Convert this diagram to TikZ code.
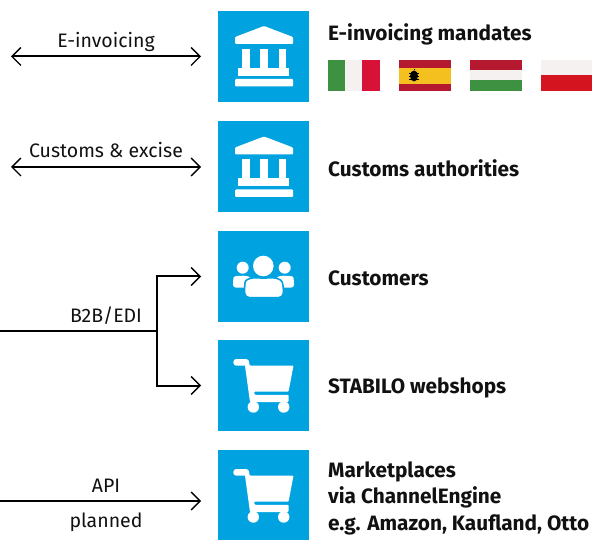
\documentclass[tikz,border=0pt]{standalone}
\usepackage{fontspec}
\setmainfont{Fira Sans}
\usetikzlibrary{arrows.meta}
\definecolor{tile}{HTML}{00A3E0}
\definecolor{fgreen}{HTML}{3F9142}
\definecolor{fwhite}{HTML}{F4F1F0}
\definecolor{fred}{HTML}{D81138}
\definecolor{fmaroon}{HTML}{B5192F}
\definecolor{fyellow}{HTML}{F3C01F}
\definecolor{fpol}{HTML}{D4151F}
\definecolor{ink}{HTML}{111111}
\tikzset{
  tilebox/.style={fill=tile,draw=none,minimum width=91pt,minimum height=91pt,inner sep=0pt,outer sep=0pt,anchor=north west},
  head/.style={font=\fontsize{20.8}{26.5}\selectfont\bfseries,text=ink,anchor=west,align=left,inner sep=0pt},
  lab/.style={font=\fontsize{19.5}{24}\selectfont,text=ink,anchor=base,inner sep=0pt},
  link/.style={line width=2pt,draw=black,line join=miter},
  tipend/.style={-{Straight Barb[length=9pt,width=18pt,line width=1.3pt]}},
  tipboth/.style={{Straight Barb[length=9pt,width=18pt,line width=1.3pt]}-{Straight Barb[length=9pt,width=18pt,line width=1.3pt]}},
  icon/.style={fill=white,draw=none},
}
\newcommand{\bankicon}{%
  \fill[icon,rounded corners=1pt] (17,26) -- (46,15) -- (75,26) -- (75,33) -- (17,33) -- cycle;
  \fill[icon] (24,38) rectangle (31.5,57);
  \fill[icon] (42,38) rectangle (49.5,57);
  \fill[icon] (60.5,38) rectangle (68,57);
  \fill[icon] (20,57) rectangle (71,65);
  \fill[icon,rounded corners=1pt] (17,68) rectangle (75,75.5);
}
\newcommand{\carticon}{%
  \fill[icon,rounded corners=3pt] (15.3,19) rectangle (31,25.7);
  \fill[icon,rounded corners=.8pt] (26.5,22) -- (30.5,20) -- (31.8,25.7) -- (75.5,25.7) -- (70.5,51.7) -- (36,51.7) -- (36.8,54.8) -- (70.5,54.8) -- (70.5,62) -- (32,62) -- cycle;
  \fill[icon] (35.3,67) circle (5.7);
  \fill[icon] (65.7,67) circle (5.7);
}
\begin{document}
\begin{tikzpicture}[x=1pt,y=-1pt]
\useasboundingbox (0,0) rectangle (592,540);
% tiles
\node[tilebox] (s1) at (218,11) {};
\node[tilebox] (s2) at (218,121.5) {};
\node[tilebox] (s3) at (218,231) {};
\node[tilebox] (s4) at (218,340) {};
\node[tilebox] (s5) at (218,450) {};
% icons
\begin{scope}[shift={(s1.north west)},x=1pt,y=-1pt]\bankicon\end{scope}
\begin{scope}[shift={(s2.north west)},x=1pt,y=-1pt]\bankicon\end{scope}
\begin{scope}[shift={(s3.north west)},x=1pt,y=-1pt]
  \fill[icon] (45.3,35) circle (10.3);
  \fill[icon] (24.7,36.7) circle (6);
  \fill[icon] (66.7,36.7) circle (6);
  \fill[icon,rounded corners=3pt] (15,56.7) -- (15,49) .. controls (16,45) and (24,44) .. (33,46) -- (33,56.7) -- cycle;
  \fill[icon,rounded corners=3pt] (76,56.7) -- (76,49) .. controls (75,45) and (67,44) .. (58,46) -- (58,56.7) -- cycle;
  \draw[fill=white,draw=tile,line width=1.6pt,rounded corners=5pt] (26.5,66.7) -- (26.5,56) .. controls (27.5,48) and (35,46) .. (45.7,47.5) .. controls (56,46) and (63.5,48) .. (65.5,56) -- (65.5,66.7) -- cycle;
\end{scope}
\begin{scope}[shift={(s4.north west)},x=1pt,y=-1pt]\carticon\end{scope}
\begin{scope}[shift={(s5.north west)},x=1pt,y=-1pt]\carticon\end{scope}
% flags
\fill[fgreen] (328,60) rectangle (345,91);
\fill[fwhite] (345,60) rectangle (362,91);
\fill[fred] (362,60) rectangle (380,91);
\fill[fmaroon] (399,60) rectangle (451,91);
\fill[fyellow] (399,68) rectangle (451,84);
\fill[black] (414,76) ellipse (4 and 5.5);
\draw[black,line width=.5pt] (409,73) -- (419,73) (409,76) -- (419,76) (409,79) -- (419,79) (414,70) -- (414,69);
\fill[fmaroon] (470,60) rectangle (522,70);
\fill[fwhite] (470,70) rectangle (522,80);
\fill[fgreen] (470,80) rectangle (522,91);
\fill[fwhite] (541,60) rectangle (592,75);
\fill[fpol] (541,75) rectangle (592,91);
% right-hand texts
\node[head] (t1) at (328,34) {E-invoicing mandates};
\node[head] (t2) at (328,168) {Customs authorities};
\node[head] (t3) at (328,278.5) {Customers};
\node[head] (t4) at (328,388) {STABILO webshops};
\node[head] (t5) at (328,498) {Marketplaces\\via ChannelEngine\\e.g. Amazon, Kaufland, Otto};
% connectors
\coordinate (a1) at (11,56.5);
\coordinate (a2) at (11,167);
\coordinate (b0) at (0,331);
\coordinate (bj) at (157,331);
\coordinate (c0) at (0,501);
\draw[link,tipboth,shorten >=17pt] (a1) -- (s1.west);
\draw[link,tipboth,shorten >=17pt] (a2) -- (a2-|s2.west);
\draw[link] (b0) -- (bj);
\draw[link,tipend,shorten >=17pt] (bj) |- (s3.west);
\draw[link,tipend,shorten >=17pt] (bj) |- (s4.west);
\draw[link,tipend,shorten >=17pt] (c0) -- (c0-|s5.west);
% connector labels
\node[lab] (l1) at (106,48) {E-invoicing};
\node[lab] (l2) at (106,158) {Customs \& excise};
\node[lab] (l3) at (106,322) {B2B/EDI};
\node[lab] (l4) at (106,492) {API};
\node[lab] (l5) at (106,527) {planned};
\end{tikzpicture}
\end{document}
